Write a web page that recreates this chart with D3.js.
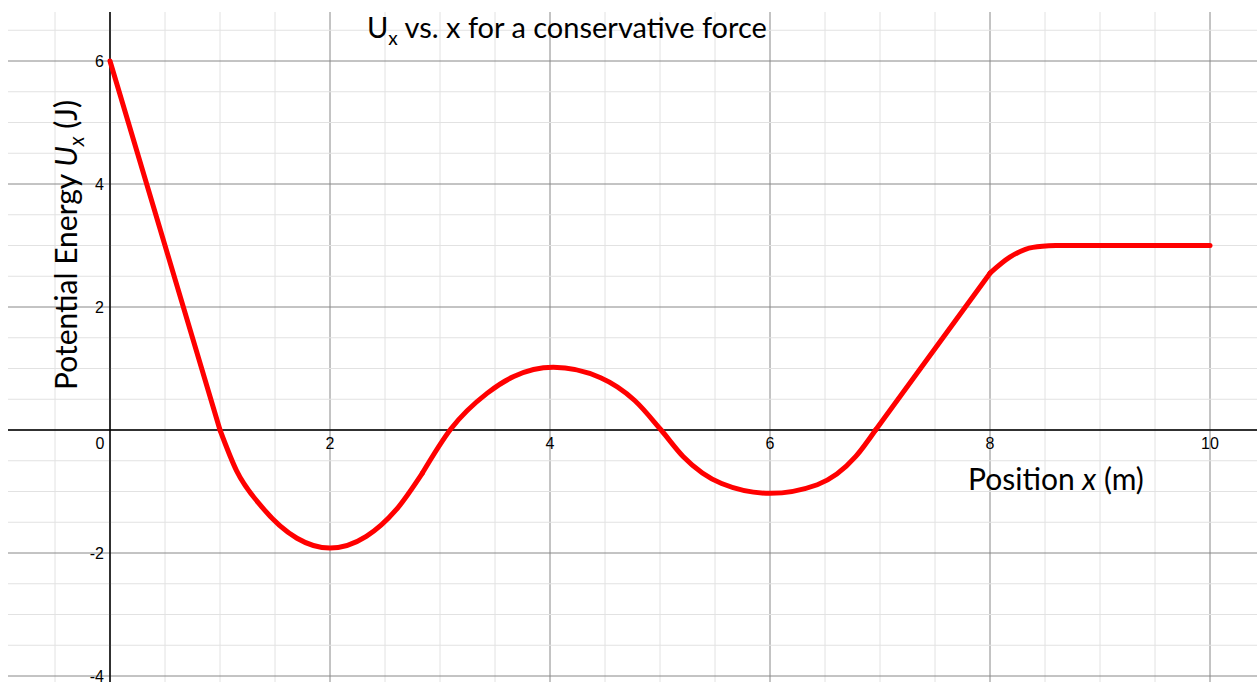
<!DOCTYPE html>
<html>
<head>
<meta charset="utf-8">
<script src="https://cdn.jsdelivr.net/npm/d3@7"></script>
<style>
  body { margin: 0; background: #fff; }
  svg { display: block; }
</style>
</head>
<body>
<div id="chart"></div>
<script>
// values
const posX = [0, 1, 1.15, 1.38, 1.7, 2, 2.33, 2.6, 2.84, 3.1, 3.43, 3.67, 4.03, 4.46, 4.77, 5.01,
  5.21, 5.56, 6, 6.43, 6.78, 6.96, 8, 8.18, 8.39, 8.6, 10];
const energyU = [6, 0, -0.66, -1.25, -1.76, -1.92, -1.73, -1.3, -0.7, 0.02, 0.6, 0.87, 1.02, 0.85, 0.48, 0,
  -0.43, -0.87, -1.03, -0.89, -0.43, 0, 2.55, 2.81, 2.97, 3, 3];
// pieces of the curve: [first index, last index, smooth?]
const pieces = [[0, 1, false], [1, 8, true], [8, 21, true], [21, 22, false], [22, 25, true], [25, 26, false]];
const xTicks = [0, 2, 4, 6, 8, 10];
const yTicks = [-4, -2, 2, 4, 6];

const width = 1259;
const height = 682;
const gridLeft = 8, gridTop = 12, gridRight = 1257;

const x = d3.scaleLinear().domain([0, 10]).range([110, 1210]);
const y = d3.scaleLinear().domain([-4, 6]).range([676, 61]);

const svg = d3.select('#chart')
  .append('svg')
  .attr('width', width)
  .attr('height', height);

// grid every 0.5, darker every 2
const gridX = d3.range(-1.5, 10.51, 0.5).filter(v => x(v) >= gridLeft && x(v) <= gridRight);
const gridY = d3.range(-4, 6.51, 0.5).filter(v => y(v) >= gridTop);

svg.append('g').selectAll('line')
  .data(gridX)
  .join('line')
  .attr('x1', d => x(d)).attr('x2', d => x(d))
  .attr('y1', gridTop).attr('y2', height)
  .attr('stroke', d => d % 2 === 0 ? '#888' : '#e2e2e2')
  .attr('stroke-width', 1);

svg.append('g').selectAll('line')
  .data(gridY)
  .join('line')
  .attr('x1', gridLeft).attr('x2', gridRight)
  .attr('y1', d => y(d)).attr('y2', d => y(d))
  .attr('stroke', d => d % 2 === 0 ? '#888' : '#e2e2e2')
  .attr('stroke-width', 1);

// axes
svg.append('line')
  .attr('x1', gridLeft).attr('x2', gridRight)
  .attr('y1', y(0)).attr('y2', y(0))
  .attr('stroke', '#000').attr('stroke-width', 1.5);
svg.append('line')
  .attr('x1', x(0)).attr('x2', x(0))
  .attr('y1', gridTop).attr('y2', height)
  .attr('stroke', '#000').attr('stroke-width', 1.5);

// tick labels
svg.append('g').selectAll('text')
  .data(xTicks)
  .join('text')
  .attr('x', d => d === 0 ? x(d) - 10 : x(d))
  .attr('y', y(0) + 19)
  .attr('text-anchor', 'middle')
  .attr('font-family', 'Liberation Sans, Arial, sans-serif')
  .attr('font-size', 16)
  .text(d => d);

svg.append('g').selectAll('text')
  .data(yTicks)
  .join('text')
  .attr('x', x(0) - 6)
  .attr('y', d => y(d) + 5.5)
  .attr('text-anchor', 'end')
  .attr('font-family', 'Liberation Sans, Arial, sans-serif')
  .attr('font-size', 16)
  .text(d => d);

// curve, drawn piece by piece so the corners stay sharp
const points = posX.map((px, i) => [px, energyU[i]]);
const smoothLine = d3.line().x(d => x(d[0])).y(d => y(d[1])).curve(d3.curveMonotoneX);
const straightLine = d3.line().x(d => x(d[0])).y(d => y(d[1]));

svg.append('g').selectAll('path')
  .data(pieces)
  .join('path')
  .attr('d', p => (p[2] ? smoothLine : straightLine)(points.slice(p[0], p[1] + 1)))
  .attr('fill', 'none')
  .attr('stroke', '#ff0000')
  .attr('stroke-width', 5)
  .attr('stroke-linecap', 'round')
  .attr('stroke-linejoin', 'round');

// title
const title = svg.append('text')
  .attr('x', 367)
  .attr('y', 38)
  .attr('font-family', 'Lato, Open Sans, sans-serif')
  .attr('font-size', 29);
title.append('tspan').text('U');
title.append('tspan').attr('font-size', 19).attr('dy', 7).text('x');
title.append('tspan').attr('dy', -7).text(' vs. x for a conservative force');

// axis labels
const xl = svg.append('text')
  .attr('x', 968)
  .attr('y', 490)
  .attr('font-family', 'Lato, Open Sans, sans-serif')
  .attr('font-size', 30);
xl.append('tspan').text('Position ');
xl.append('tspan').attr('font-style', 'italic').text('x');
xl.append('tspan').text(' (m)');

const yl = svg.append('text')
  .attr('transform', 'translate(77,390) rotate(-90)')
  .attr('font-family', 'Lato, Open Sans, sans-serif')
  .attr('font-size', 30);
yl.append('tspan').text('Potential Energy ');
yl.append('tspan').attr('font-style', 'italic').text('U');
yl.append('tspan').attr('font-style', 'italic').attr('font-size', 21).attr('dy', 7).text('x');
yl.append('tspan').attr('dy', -7).text(' (J)');
</script>
</body>
</html>
